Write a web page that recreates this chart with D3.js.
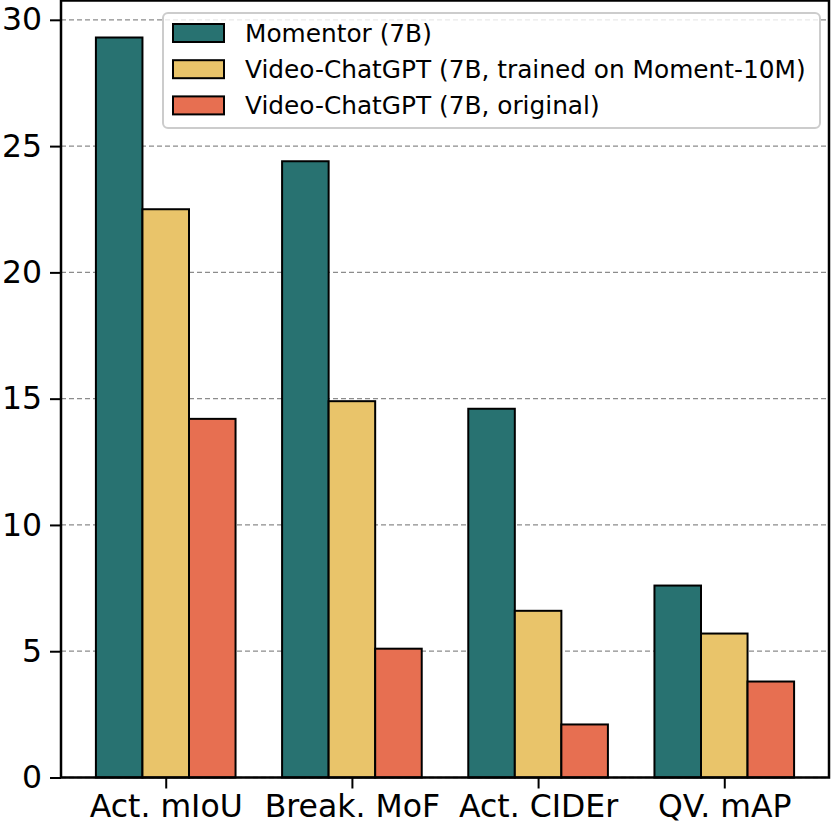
<!DOCTYPE html>
<html>
<head>
<meta charset="utf-8">
<script src="https://cdn.jsdelivr.net/npm/d3@7"></script>
<style>
  body { margin: 0; background: #fff; }
  svg { display: block; font-family: "DejaVu Sans", sans-serif; }
</style>
</head>
<body>
<div id="chart"></div>
<script>
// data
const categories = ["Act. mIoU", "Break. MoF", "Act. CIDEr", "QV. mAP"];
const seriesNames = [
    "Momentor (7B)",
    "Video-ChatGPT (7B, trained on Moment-10M)",
    "Video-ChatGPT (7B, original)"
];
const momentor = [29.3, 24.4, 14.6, 7.6];
const chatgptMoment = [22.5, 14.9, 6.6, 5.7];
const chatgptOrig = [14.2, 5.1, 2.1, 3.8];
const yTicks = [0, 5, 10, 15, 20, 25, 30];
const colors = ["#287271", "#E9C46A", "#E76F51"];

const series = [momentor, chatgptMoment, chatgptOrig];

const W = 832, H = 830;
const margin = { top: 0.5, right: 3, bottom: 52.5, left: 61 };
const width = W - margin.left - margin.right;
const height = H - margin.top - margin.bottom;

const svg = d3.select("#chart").append("svg")
    .attr("width", W)
    .attr("height", H);

const g = svg.append("g")
    .attr("transform", `translate(${margin.left},${margin.top})`);

// matplotlib style: bars width 0.25, offsets -0.25, 0, +0.25
const barW = 0.25;
const x = d3.scaleLinear()
    .domain([-0.5625, categories.length - 1 + 0.5625])
    .range([0, width]);

const y = d3.scaleLinear()
    .domain([0, 30.765])
    .range([height, 0]);

// grid lines behind bars
g.append("g")
    .selectAll("line")
    .data(yTicks)
    .enter()
    .append("line")
    .attr("x1", 0)
    .attr("x2", width)
    .attr("y1", d => y(d))
    .attr("y2", d => y(d))
    .attr("stroke", "#8c8c8c")
    .attr("stroke-width", 1.3)
    .attr("stroke-dasharray", "5,3");

// bars
series.forEach((vals, si) => {
    g.append("g")
        .selectAll("rect")
        .data(vals)
        .enter()
        .append("rect")
        .attr("x", (d, i) => x(i + (si - 1) * barW - barW / 2))
        .attr("width", x(barW) - x(0))
        .attr("y", d => y(d))
        .attr("height", d => y(0) - y(d))
        .attr("fill", colors[si])
        .attr("stroke", "#000")
        .attr("stroke-width", 2);
});

// axes
const yAxis = g.append("g")
    .call(d3.axisLeft(y).tickValues(yTicks).tickSize(11).tickPadding(8));
const xAxis = g.append("g")
    .attr("transform", `translate(0,${height})`)
    .call(d3.axisBottom(x)
        .tickValues(d3.range(categories.length))
        .tickFormat(i => categories[i])
        .tickSize(11).tickPadding(6));

[yAxis, xAxis].forEach(ax => {
    ax.select(".domain").remove();
    ax.selectAll(".tick line").attr("stroke", "#000").attr("stroke-width", 2);
    ax.selectAll(".tick text")
        .attr("fill", "#000")
        .style("font-family", "DejaVu Sans, sans-serif")
        .style("font-size", "31.5px");
});

// frame
g.append("rect")
    .attr("x", 0)
    .attr("y", 0)
    .attr("width", width)
    .attr("height", height)
    .attr("fill", "none")
    .attr("stroke", "#000")
    .attr("stroke-width", 2.5);

// legend
const legend = svg.append("g").attr("transform", "translate(163,13)");
legend.append("rect")
    .attr("width", 657)
    .attr("height", 115)
    .attr("rx", 5)
    .attr("fill", "#fff")
    .attr("fill-opacity", 0.8)
    .attr("stroke", "#cccccc")
    .attr("stroke-width", 2);

const items = legend.selectAll(".item")
    .data(seriesNames)
    .enter()
    .append("g")
    .attr("class", "item")
    .attr("transform", (d, i) => `translate(10,${20 + i * 36.2})`);

items.append("rect")
    .attr("x", 0)
    .attr("y", -9)
    .attr("width", 51)
    .attr("height", 18)
    .attr("fill", (d, i) => colors[i])
    .attr("stroke", "#000")
    .attr("stroke-width", 2);

items.append("text")
    .attr("x", 72)
    .attr("y", 0)
    .attr("dy", "0.36em")
    .style("font-size", "24.8px")
    .attr("fill", "#000")
    .text(d => d);
</script>
</body>
</html>
